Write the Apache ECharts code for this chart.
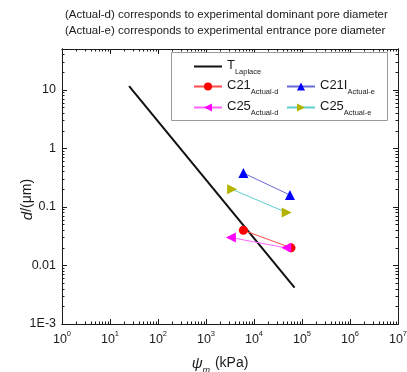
<!DOCTYPE html>
<html>
<head>
<meta charset="utf-8">
<script src="https://cdn.jsdelivr.net/npm/echarts@6/dist/echarts.min.js"></script>
<style>
  html, body { margin: 0; padding: 0; background: #fff; }
  #chart { width: 407px; height: 372px; }
</style>
</head>
<body>
<div id="chart"></div>
<script>
// Pore diameter d (μm) against matric suction ψm (kPa), log-log axes.

// Axis ticks
const xTickValues = [1, 10, 100, 1000, 10000, 100000, 1000000, 10000000];
const xTickPowers = ['0', '1', '2', '3', '4', '5', '6', '7'];
const yTickValues = [0.001, 0.01, 0.1, 1, 10];
const yTickLabels = ['1E-3', '0.01', '0.1', '1', '10'];
const xRange = [1, 10000000];
const yRange = [0.001, 50];

// Laplace (theoretical) relation, end points of the line
const laplacePsi = [25, 70000];
const laplaceD = [11.6, 0.0042];

// Experimental points: suction (kPa) and diameter (μm)
const c21dPsi = [6000, 59000];
const c21dD = [0.04, 0.02];
const c21ePsi = [6000, 56000];
const c21eD = [0.38, 0.16];
const c25dPsi = [3300, 47000];
const c25dD = [0.03, 0.02];
const c25ePsi = [3500, 48000];
const c25eD = [0.2, 0.08];

// Legend names
const names = {
  lap: 'T Laplace',
  c21d: 'C21 Actual-d',
  c21e: 'C21I Actual-e',
  c25d: 'C25 Actual-d',
  c25e: 'C25 Actual-e'
};

function pairs(xs, ys) { return xs.map((x, i) => [x, ys[i]]); }

// minor ticks at 2..9 within each decade, clipped to the axis range
function minorTicks(majors, hi) {
  const out = [];
  const all = majors.concat([majors[majors.length - 1] * 10]);
  for (let i = 0; i < all.length - 1; i++) {
    for (let k = 2; k <= 9; k++) {
      const v = all[i] * k;
      if (v <= hi * 1.0000001) out.push(v);
    }
  }
  return out;
}
const xMinor = minorTicks(xTickValues, xRange[1]);
const yMinor = minorTicks(yTickValues, yRange[1]);

const FONT = '"Liberation Sans", Arial, sans-serif';
const INK = '#1a1a1a';

function xAxisDef(position, major, withLabels) {
  return {
    type: 'log', logBase: 10, min: xRange[0], max: xRange[1], position: position,
    gridIndex: 0,
    axisLine: { show: true, onZero: false, lineStyle: { color: INK, width: 1 } },
    axisTick: { show: true, inside: true, length: major ? 5 : 2.5,
      customValues: major ? xTickValues : xMinor, lineStyle: { color: INK, width: 1 } },
    minorTick: { show: false },
    splitLine: { show: false },
    axisLabel: withLabels ? {
      show: true, margin: 6, customValues: xTickValues, fontFamily: FONT,
      formatter: function (v) {
        const i = xTickValues.findIndex(t => Math.abs(t - v) / t < 1e-6);
        return '{b|10}{s|' + (i >= 0 ? xTickPowers[i] : '') + '}';
      },
      rich: {
        b: { fontSize: 12.5, color: INK, fontFamily: FONT, lineHeight: 14, padding: [3, 0, 0, 0], verticalAlign: 'top' },
        s: { fontSize: 7.5, color: INK, fontFamily: FONT, lineHeight: 9, verticalAlign: 'top' }
      }
    } : { show: false },
    name: withLabels ? '{i|ψ}{m|m}{n| (kPa)}' : '',
    nameLocation: 'middle', nameGap: 32, nameMoveOverlap: false,
    nameTextStyle: withLabels ? {
      padding: [0, 20, 0, 0],
      rich: {
        i: { fontSize: 15, fontStyle: 'italic', color: INK, fontFamily: FONT, lineHeight: 16, verticalAlign: 'top' },
        m: { fontSize: 9, fontStyle: 'italic', color: INK, fontFamily: FONT, lineHeight: 9, padding: [10, 1, 0, 0], verticalAlign: 'top' },
        n: { fontSize: 14, color: INK, fontFamily: FONT, lineHeight: 16, verticalAlign: 'top' }
      }
    } : {}
  };
}

function yAxisDef(position, major, withLabels) {
  return {
    type: 'log', logBase: 10, min: yRange[0], max: yRange[1], position: position,
    gridIndex: 0,
    axisLine: { show: true, onZero: false, lineStyle: { color: INK, width: 1 } },
    axisTick: { show: true, inside: true, length: major ? 5 : 2.5,
      customValues: major ? yTickValues : yMinor, lineStyle: { color: INK, width: 1 } },
    minorTick: { show: false },
    splitLine: { show: false },
    axisLabel: withLabels ? {
      show: true, margin: 6, customValues: yTickValues, fontFamily: FONT, fontSize: 12.5, color: INK,
      formatter: function (v) {
        const i = yTickValues.findIndex(t => Math.abs(t - v) / t < 1e-6);
        return i >= 0 ? yTickLabels[i] : '';
      }
    } : { show: false },
    name: withLabels ? '{i|d}{n|/(μm)}' : '',
    nameLocation: 'middle', nameGap: 27, nameRotate: 90, nameMoveOverlap: false,
    nameTextStyle: withLabels ? {
      padding: [0, 26, 0, 0],
      rich: {
        i: { fontSize: 15, fontStyle: 'italic', color: INK, fontFamily: FONT },
        n: { fontSize: 14, color: INK, fontFamily: FONT }
      }
    } : {}
  };
}

const legendRich = {
  m: { fontSize: 13, color: INK, fontFamily: FONT, lineHeight: 15, verticalAlign: 'top' },
  s: { fontSize: 7.5, color: INK, fontFamily: FONT, lineHeight: 9, padding: [9, 0, 0, 0], verticalAlign: 'top' }
};
function legendAt(name, left, top, noSymbol) {
  const lg = {
    data: [name], left: left, top: top, padding: 0,
    itemWidth: 28, itemHeight: 10, itemGap: 0, selectedMode: false,
    textStyle: { rich: legendRich, padding: [0, 0, 0, 0] },
    formatter: function (n) {
      const parts = n.split(' ');
      return '{m|' + parts[0] + '}{s|' + parts[1] + '}';
    }
  };
  if (noSymbol) lg.itemStyle = { opacity: 0 };
  return lg;
}

const chart = echarts.init(document.getElementById('chart'), null, { renderer: 'canvas' });

chart.setOption({
  animation: false,
  backgroundColor: '#fff',
  title: {
    text: '(Actual-d) corresponds to experimental dominant pore diameter\n(Actual-e) corresponds to experimental entrance pore diameter',
    left: 65, top: 7, padding: 0,
    textStyle: { fontSize: 11.5, fontWeight: 'normal', color: INK, fontFamily: FONT, lineHeight: 16 }
  },
  grid: { left: 62, right: 9, top: 49, bottom: 48, containLabel: false, outerBoundsMode: 'none' },
  xAxis: [
    xAxisDef('bottom', true, true),
    xAxisDef('bottom', false, false),
    xAxisDef('top', true, false),
    xAxisDef('top', false, false)
  ],
  yAxis: [
    yAxisDef('left', true, true),
    yAxisDef('left', false, false),
    yAxisDef('right', true, false),
    yAxisDef('right', false, false)
  ],
  graphic: [{
    type: 'rect', z: 1, silent: true,
    shape: { x: 171.5, y: 52.5, width: 216, height: 68 },
    style: { fill: '#fff', stroke: '#9a9a9a', lineWidth: 1 }
  }],
  legend: [
    legendAt(names.lap, 193, 59, true),
    legendAt(names.c21d, 193, 79),
    legendAt(names.c21e, 286, 79),
    legendAt(names.c25d, 193, 100),
    legendAt(names.c25e, 286, 100)
  ],
  series: [
    {
      name: names.lap, type: 'line', data: pairs(laplacePsi, laplaceD),
      symbol: 'none', lineStyle: { color: '#111', width: 2 }, itemStyle: { color: '#111' }, z: 3
    },
    {
      name: names.c21d, type: 'line', data: pairs(c21dPsi, c21dD),
      symbol: 'circle', symbolSize: 9,
      lineStyle: { color: '#ff4a4a', width: 1 }, itemStyle: { color: '#ff0000' }, z: 4
    },
    {
      name: names.c21e, type: 'line', data: pairs(c21ePsi, c21eD),
      symbol: 'triangle', symbolSize: 10,
      lineStyle: { color: '#6a6ad6', width: 1 }, itemStyle: { color: '#0000ff' }, z: 4
    },
    {
      name: names.c25d, type: 'line', data: pairs(c25dPsi, c25dD),
      symbol: 'triangle', symbolSize: 10, symbolRotate: 90,
      lineStyle: { color: '#ff66ff', width: 1 }, itemStyle: { color: '#ff00ff' }, z: 4
    },
    {
      name: names.c25e, type: 'line', data: pairs(c25ePsi, c25eD),
      symbol: 'triangle', symbolSize: 10, symbolRotate: -90,
      lineStyle: { color: '#5fcfcf', width: 1 }, itemStyle: { color: '#b4b400' }, z: 4
    }
  ]
});
</script>
</body>
</html>
